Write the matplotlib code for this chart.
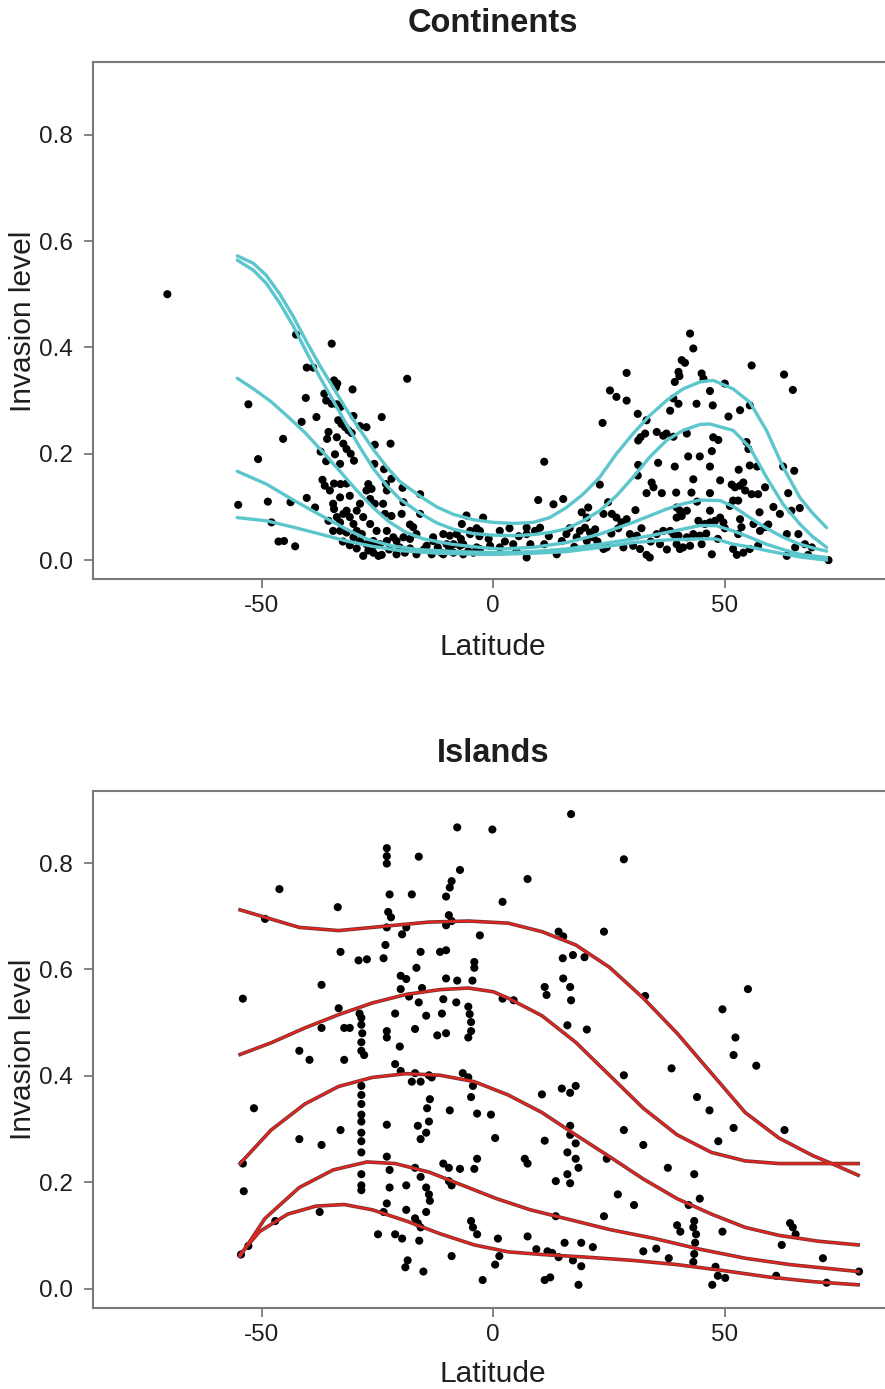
import matplotlib
matplotlib.use("Agg")
import matplotlib.pyplot as plt

plt.rcParams['font.family'] = ['Liberation Sans', 'DejaVu Sans']

# ---------------- Continents data ----------------
cont_lat = [
    -70.4, -42.6, -34.9, -40.3, -38.9, -18.6, -34.4, -33.7, -34.0, -52.9, -40.5, -30.4,
    -36.5, -36.1, -34.9, -33.8, -33.0, -30.2, -38.2, -41.4, -24.1, -33.5, -32.8, -32.0,
    -31.3, -30.6, -28.8, -27.4, -45.4, -35.6, -35.9, -33.8, -32.4, -31.7, -30.8, -30.1,
    -25.6, -22.2, -50.8, -37.3, -36.1, -33.1, -34.2, -25.7, -23.6, -36.9, -36.4, -34.4,
    -33.0, -31.7, -27.0, -26.3, -27.4, -22.0, -23.2, -23.0, -19.6, -15.8, -19.4, -55.1,
    -48.7, -43.8, -40.3, -38.5, -47.9, -46.4, -45.2, -42.8,
    -35.6, -34.4, -33.8, -33.1, -32.4, -31.7, -31.0, -30.2, -29.5, -28.4,
    -34.6, -33.1, -31.7, -30.2, -28.8, -27.4, -25.9, -24.5, -23.0, -20.9, -19.4, -18.0,
    -16.6, -17.3, -13.0, -10.8, -9.4, -7.9, -5.8, -5.0, -3.6,
    -28.1, -25.9, -24.8, -24.1, -20.9, -19.1, -16.6, -13.3, -11.2, -8.6, -6.5, -4.3,
    -28.8, -26.6, -25.6, -23.8, -23.4, -22.0, -19.8, -18.0, -13.0, -15.8,
    -34.6, -33.1, -31.0, -35.3, -29.5, -28.1, -26.6, -25.2, -23.0, -21.6, -25.9, -20.2,
    -14.4, -10.1, -6.5, -2.9,
    -32.5, -31.0, -29.5, -27.0, -22.5, -18.0, -15.0, -12.0, -9.5, -7.0, -3.0, -1.0,
    2.5, 3.5, 5.5, 8.0, 11.0, 12.0, 16.5, 17.5, 22.5, 25.5, 27.0, 32.0, 34.0, 36.0,
    37.5, 45.0, 46.0, 48.5, 50.0, 44.0, 49.0, 53.0, 57.5, 60.5,
    11.0, 42.5, 43.2, 40.7, 41.4, 55.8, 62.8, 64.7, 28.8, 40.0, 40.2, 45.0, 45.4,
    25.2, 26.6, 28.8, 39.2, 38.9, 40.0, 38.2, 46.8, 43.9, 47.4, 50.0, 53.3, 55.4,
    31.2, 33.1, 50.8, 23.6, 35.3, 36.7, 37.4, 38.9, 31.3, 31.8, 32.8, 41.8, 47.5, 48.6,
    42.1, 44.6, 47.2, 35.6, 39.2, 46.8, 31.3, 54.7, 55.1, 55.4, 57.0, 62.6, 65.0,
    31.2, 43.2, 34.2, 34.6, 51.5, 52.2, 53.3, 54.0, 54.4, 58.7, 23.0,
    33.1, 36.4, 39.5, 42.8, 46.8, 63.7, 51.8, 52.9, 55.8, 57.2,
    24.8, 15.1, 13.0, 9.7, 19.1, 20.5, 20.2, 23.8, 25.6, 26.6, 27.7, 28.8, 30.7,
    39.6, 40.3, 40.7, 39.6, 41.8, 44.3, 45.7, 46.8, 47.9, 49.0, 49.7, 46.8,
    61.9, 66.2, 64.4, 57.6, 58.7, 59.4, 56.2, 53.3, 53.6, 52.9, 51.1,
    63.4, 65.9, 65.2, 63.4, 67.3, 68.8, 68.0, 72.4,
    51.8, 52.6, 54.0, 55.4, 57.2, 47.2, 39.6, 41.0, 42.5, 40.3, 33.1, 31.7, 33.8,
    38.9, 40.0, 41.8, 43.2, 44.6, 35.3, 36.7, 38.2,
    28.1, 30.2, 23.8, 24.5, 31.0, 29.5,
    18.7, 19.8, 20.9, 22.0, 18.0, 20.2, 21.6, 13.7, 14.8, 15.8,
    10.1, 9.0, 7.2, 7.2, 4.3, 7.2, 5.0, 1.4, 1.4,
    -2.2, -0.7, -3.6, -2.9, -6.8, -5.0, -7.2, -5.4, -8.6, -10.8,
]
cont_inv = [
    0.500, 0.424, 0.407, 0.362, 0.362, 0.341, 0.338, 0.332, 0.325, 0.293, 0.305, 0.321,
    0.313, 0.300, 0.294, 0.293, 0.288, 0.271, 0.269, 0.260, 0.269, 0.263, 0.256, 0.250,
    0.244, 0.239, 0.252, 0.250, 0.228, 0.241, 0.228, 0.231, 0.219, 0.209, 0.200, 0.187,
    0.217, 0.219, 0.190, 0.204, 0.186, 0.181, 0.199, 0.181, 0.171, 0.151, 0.140, 0.144,
    0.143, 0.144, 0.143, 0.134, 0.131, 0.153, 0.143, 0.131, 0.136, 0.124, 0.109, 0.104,
    0.110, 0.109, 0.117, 0.099, 0.071, 0.035, 0.036, 0.026,
    0.074, 0.096, 0.081, 0.071, 0.087, 0.093, 0.081, 0.068, 0.055, 0.049,
    0.055, 0.055, 0.052, 0.043, 0.036, 0.030, 0.036, 0.030, 0.036, 0.036, 0.043, 0.040,
    0.049, 0.062, 0.036, 0.049, 0.046, 0.049, 0.084, 0.055, 0.060,
    0.008, 0.014, 0.008, 0.010, 0.011, 0.014, 0.011, 0.011, 0.014, 0.014, 0.011, 0.014,
    0.106, 0.115, 0.106, 0.106, 0.087, 0.083, 0.087, 0.067, 0.043, 0.087,
    0.106, 0.118, 0.121, 0.131, 0.093, 0.081, 0.068, 0.055, 0.055, 0.043, 0.027, 0.024,
    0.027, 0.030, 0.030, 0.021,
    0.035, 0.028, 0.022, 0.018, 0.020, 0.022, 0.020, 0.024, 0.022, 0.040, 0.045, 0.040,
    0.035, 0.060, 0.045, 0.030, 0.030, 0.045, 0.060, 0.025, 0.035, 0.050, 0.060, 0.060, 0.035, 0.030,
    0.020, 0.030, 0.050, 0.040, 0.060, 0.110, 0.150, 0.170, 0.090, 0.100,
    0.185, 0.426, 0.398, 0.376, 0.371, 0.366, 0.349, 0.320, 0.352, 0.354, 0.346, 0.351, 0.341,
    0.319, 0.307, 0.300, 0.335, 0.304, 0.294, 0.281, 0.318, 0.294, 0.291, 0.332, 0.282, 0.291,
    0.275, 0.263, 0.270, 0.258, 0.241, 0.234, 0.238, 0.232, 0.225, 0.231, 0.238, 0.238, 0.231, 0.226,
    0.195, 0.195, 0.205, 0.183, 0.176, 0.176, 0.179, 0.222, 0.209, 0.178, 0.176, 0.176, 0.168,
    0.159, 0.152, 0.146, 0.137, 0.142, 0.137, 0.140, 0.146, 0.131, 0.137, 0.142,
    0.126, 0.126, 0.127, 0.127, 0.126, 0.126, 0.112, 0.112, 0.124, 0.124,
    0.109, 0.115, 0.105, 0.113, 0.090, 0.099, 0.080, 0.087, 0.087, 0.080, 0.071, 0.077, 0.094,
    0.099, 0.093, 0.083, 0.080, 0.093, 0.074, 0.068, 0.071, 0.074, 0.080, 0.071, 0.093,
    0.087, 0.098, 0.093, 0.055, 0.062, 0.067, 0.068, 0.077, 0.062, 0.049, 0.102,
    0.049, 0.049, 0.024, 0.008, 0.030, 0.024, 0.010, 0.000,
    0.021, 0.010, 0.014, 0.021, 0.027, 0.011, 0.030, 0.024, 0.027, 0.021, 0.010, 0.021, 0.005,
    0.049, 0.046, 0.043, 0.049, 0.046, 0.049, 0.055, 0.055,
    0.024, 0.027, 0.021, 0.024, 0.046, 0.049,
    0.055, 0.061, 0.052, 0.058, 0.043, 0.036, 0.043, 0.011, 0.036, 0.049,
    0.061, 0.055, 0.061, 0.049, 0.030, 0.005, 0.017, 0.055, 0.024,
    0.080, 0.027, 0.024, 0.055, 0.068, 0.049, 0.027, 0.017, 0.030, 0.011,
]

# quantile curves (continents)
cq_a_x = [-55.3, -51.8, -49.0, -46.1, -43.2, -40.3, -37.4, -34.6, -31.7, -28.8, -25.9, -23.0, -20.2,
          -15.8, -12.2, -8.6, -4.3, 0.0, 4.3, 8.6, 12.2, 15.8, 19.4, 23.0, 26.6, 30.2, 33.8, 37.4,
          41.0, 44.6, 47.5, 51.8, 55.4, 59.0, 62.6, 66.2, 69.0, 72.0]
cq_a_y = [0.572, 0.558, 0.535, 0.500, 0.458, 0.410, 0.365, 0.325, 0.283, 0.245, 0.208, 0.175, 0.148,
          0.120, 0.100, 0.086, 0.076, 0.071, 0.069, 0.071, 0.080, 0.099, 0.124, 0.156, 0.200, 0.238,
          0.272, 0.300, 0.322, 0.335, 0.338, 0.322, 0.297, 0.244, 0.175, 0.118, 0.088, 0.061]
cq_b_x = [-55.3, -51.8, -49.0, -46.1, -43.2, -40.3, -37.4, -34.6, -31.7, -28.8, -25.9, -23.0, -20.2,
          -15.8, -12.2, -8.6, -4.3, 0.0, 4.3, 8.6, 12.2, 15.8, 19.4, 23.0, 26.6, 30.2, 33.8, 37.4,
          41.0, 44.6, 46.8, 51.8, 55.4, 59.0, 62.6, 66.2, 69.0, 72.0]
cq_b_y = [0.564, 0.545, 0.520, 0.483, 0.440, 0.390, 0.343, 0.300, 0.255, 0.212, 0.172, 0.140, 0.115,
          0.088, 0.070, 0.058, 0.050, 0.047, 0.046, 0.048, 0.052, 0.059, 0.074, 0.093, 0.121, 0.156,
          0.194, 0.225, 0.244, 0.255, 0.256, 0.244, 0.212, 0.156, 0.105, 0.068, 0.044, 0.024]
cq_c_x = [-55.3, -51.8, -48.0, -44.4, -40.7, -37.0, -33.4, -29.7, -26.1, -22.5, -18.8, -15.1, -9.0,
          -3.0, 1.4, 8.6, 15.8, 23.0, 30.2, 37.4, 41.0, 44.6, 49.0, 52.0, 55.4, 59.0, 62.6, 66.2,
          69.0, 72.0]
cq_c_y = [0.342, 0.322, 0.298, 0.270, 0.240, 0.205, 0.170, 0.133, 0.100, 0.072, 0.052, 0.040, 0.030,
          0.024, 0.021, 0.024, 0.033, 0.049, 0.071, 0.096, 0.106, 0.113, 0.112, 0.100, 0.080, 0.060,
          0.043, 0.030, 0.023, 0.017]
cq_d_x = [-55.3, -49.0, -43.2, -37.4, -31.7, -27.4, -22.0, -16.3, -8.0, 1.4, 8.6, 15.8, 23.0, 30.2,
          37.4, 44.6, 48.0, 51.8, 55.4, 59.0, 62.6, 66.2, 72.0]
cq_d_y = [0.167, 0.143, 0.113, 0.085, 0.058, 0.040, 0.027, 0.020, 0.016, 0.014, 0.016, 0.021, 0.030,
          0.040, 0.052, 0.065, 0.065, 0.055, 0.043, 0.030, 0.020, 0.011, 0.005]
cq_e_x = [-55.3, -49.0, -43.2, -37.4, -31.7, -26.1, -20.2, -12.0, -3.0, 1.4, 8.6, 15.8, 23.0, 30.2,
          37.4, 44.6, 48.0, 51.8, 55.4, 59.0, 62.6, 66.2, 72.0]
cq_e_y = [0.080, 0.074, 0.062, 0.049, 0.036, 0.026, 0.018, 0.013, 0.011, 0.011, 0.013, 0.016, 0.024,
          0.033, 0.038, 0.040, 0.040, 0.030, 0.025, 0.018, 0.012, 0.006, 0.000]

# ---------------- Islands data ----------------
isl_lat = [
    16.8, -7.8, -0.2, -23.0, -23.0, -23.0, -16.1, 28.2, -7.2, 7.4, -9.0, -9.4, -10.2, -46.2,
    -22.4, -17.6, 2.0, -33.6, -22.7, -22.1, -49.3, -9.6, -9.0, -10.2, -23.0, -18.8, 23.9, 14.1,
    15.1, -2.9, -19.7, -23.3, -23.7, -27.3, -29.1, -15.7, -11.5, -10.2, -33.0, 15.0, 17.2, 19.7,
    -20.0, -18.8, -16.6, -4.1, -4.1, -10.2, -7.8, -15.4, -4.5, -37.1, 15.1, 16.6, 16.8, 11.1,
    11.5, 2.0, 4.4, 32.8, 55.0, -54.1, -20.0, -18.2, -16.1, -10.8, -11.1, -8.0, -33.4, -5.4,
    -5.1, -4.8, -4.8, -5.4, 49.5, -28.9, -28.5, -28.5, -28.3, -28.5, -28.5, -27.9, -21.2, -14.5,
    -32.2, -31.0, -37.1, 16.0, 20.2, -23.0, -23.0, -16.9, -12.1, -10.2, -20.2, 52.3, -32.2, 56.8,
    -41.9, -39.7, 51.9, 38.5, -21.2, -20.0, -16.9, -13.9, -17.6, -15.7, -13.3, -6.6, -5.4, -4.4,
    -4.8, 14.8, 17.8, 16.6, 28.2, -28.5, -28.5, -28.5, -28.5, -28.5, -28.5, -28.5, -28.5, 10.5,
    -13.7, -14.3, -13.9, -14.5, 44.0, -51.7, -3.5, -9.4, -0.5, 46.7, -16.3, -15.7, -23.0, -33.0,
    28.2, 62.9, 51.9, 16.6, 16.6, 17.8, 0.4, -41.9, 48.6, -37.1, 32.4, 11.1, 16.0, 17.8, 18.4,
    16.0, 16.6, 6.8, 7.4, 24.5, -10.8, -9.6, -7.2, -4.1, -3.5, 37.7, -28.5, -28.5, -28.5, -23.0,
    -22.4, -16.9, -15.7, -14.5, -13.9, -13.7, -14.5, -22.4, -18.8, -9.6, -9.0, 13.5, 43.4, 26.9,
    30.4, 42.2, 44.6, 43.4, 43.2, 43.8, 43.6, 43.4, 43.2, 39.7, 40.4, -23.0, -23.7, -18.8, -16.9,
    -16.3, -15.7, -16.0, -21.2, -19.7, -24.9, -47.1, -37.5, -53.9, -54.1, -54.5, -52.9, 23.9,
    13.5, 64.1, 64.7, 65.3, 62.3, 1.0, 1.3, 0.4, -2.3, -9.0, -15.1, -18.5, -19.0, -4.8, -4.4,
    -3.5, 7.4, 9.3, 11.7, 12.7, 14.1, 15.4, 19.0, 21.5, 17.2, 19.0, 18.4, 11.1, 12.3, 32.4, 35.2,
    37.9, 49.5, 48.0, 48.5, 47.3, 50.1, 61.1, 71.2, 72.0, 79.0,
]
isl_inv = [
    0.892, 0.867, 0.863, 0.828, 0.813, 0.799, 0.812, 0.807, 0.787, 0.770, 0.766, 0.754, 0.737, 0.751,
    0.741, 0.741, 0.727, 0.717, 0.708, 0.698, 0.695, 0.702, 0.691, 0.683, 0.679, 0.679, 0.671, 0.671,
    0.662, 0.664, 0.666, 0.646, 0.621, 0.619, 0.617, 0.633, 0.633, 0.636, 0.633, 0.621, 0.627, 0.623,
    0.588, 0.582, 0.603, 0.614, 0.603, 0.583, 0.579, 0.565, 0.579, 0.571, 0.583, 0.567, 0.542, 0.567,
    0.552, 0.545, 0.542, 0.550, 0.563, 0.545, 0.563, 0.549, 0.538, 0.544, 0.517, 0.538, 0.527, 0.530,
    0.516, 0.501, 0.484, 0.472, 0.525, 0.517, 0.509, 0.496, 0.480, 0.463, 0.447, 0.439, 0.517, 0.513,
    0.490, 0.490, 0.490, 0.495, 0.487, 0.484, 0.472, 0.488, 0.476, 0.480, 0.455, 0.472, 0.430, 0.419,
    0.447, 0.430, 0.439, 0.414, 0.422, 0.409, 0.405, 0.401, 0.389, 0.389, 0.397, 0.405, 0.397, 0.381,
    0.360, 0.376, 0.381, 0.368, 0.401, 0.381, 0.364, 0.347, 0.327, 0.314, 0.293, 0.277, 0.256, 0.365,
    0.356, 0.339, 0.314, 0.293, 0.360, 0.339, 0.329, 0.335, 0.327, 0.335, 0.306, 0.281, 0.308, 0.298,
    0.298, 0.298, 0.302, 0.306, 0.289, 0.273, 0.283, 0.281, 0.277, 0.270, 0.270, 0.278, 0.256, 0.244, 0.227,
    0.215, 0.198, 0.244, 0.235, 0.244, 0.235, 0.227, 0.225, 0.225, 0.244, 0.227, 0.215, 0.194, 0.185, 0.248,
    0.223, 0.227, 0.210, 0.190, 0.177, 0.165, 0.144, 0.190, 0.194, 0.202, 0.194, 0.202, 0.215, 0.177,
    0.157, 0.157, 0.169, 0.127, 0.115, 0.102, 0.086, 0.065, 0.050, 0.119, 0.107, 0.160, 0.144, 0.148, 0.132,
    0.123, 0.115, 0.090, 0.102, 0.094, 0.102, 0.127, 0.144, 0.183, 0.235, 0.064, 0.080, 0.136,
    0.136, 0.123, 0.115, 0.102, 0.082, 0.094, 0.061, 0.045, 0.016, 0.061, 0.032, 0.053, 0.040, 0.127, 0.115,
    0.102, 0.098, 0.074, 0.070, 0.067, 0.059, 0.086, 0.086, 0.078, 0.053, 0.042, 0.007, 0.016, 0.021, 0.070, 0.075,
    0.057, 0.107, 0.041, 0.024, 0.007, 0.020, 0.024, 0.057, 0.011, 0.032,
]

iq_1_x = [-54.7, -49.3, -41.9, -33.4, -23.7, -13.9, -5.4, 3.2, 10.5, 17.8, 25.1, 32.4, 39.7, 47.1,
          54.4, 61.7, 69.0, 73.9, 78.8]
iq_1_y = [0.712, 0.698, 0.679, 0.673, 0.681, 0.689, 0.691, 0.687, 0.671, 0.646, 0.604, 0.546, 0.480,
          0.405, 0.331, 0.283, 0.250, 0.232, 0.213]
iq_2_x = [-54.7, -48.0, -40.7, -33.4, -26.1, -18.8, -11.5, -5.4, 0.0, 3.2, 10.5, 17.8, 25.1, 32.4,
          39.7, 47.1, 54.4, 61.7, 70.0, 78.8]
iq_2_y = [0.440, 0.462, 0.490, 0.515, 0.537, 0.553, 0.562, 0.565, 0.558, 0.546, 0.513, 0.463, 0.401,
          0.339, 0.289, 0.256, 0.240, 0.235, 0.235, 0.235]
iq_3_x = [-54.7, -48.0, -40.7, -33.4, -26.1, -18.8, -11.5, -4.1, 3.2, 10.5, 17.8, 25.1, 32.4, 39.7,
          47.1, 54.4, 61.7, 70.2, 78.8]
iq_3_y = [0.235, 0.298, 0.347, 0.380, 0.397, 0.404, 0.401, 0.389, 0.364, 0.331, 0.289, 0.248, 0.206,
          0.169, 0.140, 0.115, 0.100, 0.089, 0.082]
iq_4_x = [-54.7, -49.3, -41.9, -34.6, -27.3, -21.2, -13.9, -6.6, 0.7, 8.0, 15.4, 25.1, 34.9, 44.6,
          54.4, 64.1, 78.8]
iq_4_y = [0.061, 0.132, 0.190, 0.223, 0.238, 0.235, 0.219, 0.194, 0.169, 0.148, 0.132, 0.111, 0.094,
          0.074, 0.057, 0.045, 0.032]
iq_5_x = [-54.7, -50.5, -44.4, -38.3, -32.2, -26.1, -18.8, -11.5, -4.1, 3.2, 10.5, 20.2, 30.0, 39.7,
          49.5, 59.2, 69.0, 78.8]
iq_5_y = [0.064, 0.107, 0.140, 0.155, 0.158, 0.148, 0.127, 0.103, 0.082, 0.069, 0.064, 0.059, 0.053,
          0.045, 0.034, 0.022, 0.013, 0.007]

x_ticks = [-50, 0, 50]
y_ticks = [0.0, 0.2, 0.4, 0.6, 0.8]
y_tick_labels = ["0.0", "0.2", "0.4", "0.6", "0.8"]

W, H = 885, 1389
fig = plt.figure(figsize=(W / 100, H / 100), dpi=100)

TXT = '#1e1e1e'
SPINE = '#7a7a7a'


def setup(ax):
    ax.set_xlim(-86.4, 86.4)
    ax.set_ylim(-0.036, 0.936)
    ax.set_xticks(x_ticks)
    ax.set_xticklabels([str(v) for v in x_ticks])
    ax.set_yticks(y_ticks)
    ax.set_yticklabels(y_tick_labels)
    for s in ax.spines.values():
        s.set_color(SPINE)
        s.set_linewidth(1.5)
    ax.tick_params(axis='both', direction='out', length=6.5, width=1.3, color=SPINE,
                   labelsize=17.5, labelcolor=TXT)
    ax.tick_params(axis='y', pad=8)
    ax.tick_params(axis='x', pad=5)


# top panel
ax1 = fig.add_axes([93.3 / W, 1 - 579.3 / H, 800 / W, 517 / H])
setup(ax1)
cyan = '#5cc6cd'
for cx, cy in [(cq_a_x, cq_a_y), (cq_b_x, cq_b_y), (cq_c_x, cq_c_y), (cq_d_x, cq_d_y), (cq_e_x, cq_e_y)]:
    ax1.plot(cx, cy, color=cyan, lw=2.4, solid_capstyle='round', solid_joinstyle='round', zorder=3)
ax1.scatter(cont_lat, cont_inv, s=34, color='black', edgecolors='none', zorder=2)

# bottom panel
ax2 = fig.add_axes([93.3 / W, 1 - 1307.7 / H, 800 / W, 517 / H])
setup(ax2)
ax2.scatter(isl_lat, isl_inv, s=34, color='black', edgecolors='none', zorder=2)
for cx, cy in [(iq_1_x, iq_1_y), (iq_2_x, iq_2_y), (iq_3_x, iq_3_y), (iq_4_x, iq_4_y), (iq_5_x, iq_5_y)]:
    ax2.plot(cx, cy, color='#6e3434', lw=2.6, solid_joinstyle='round', zorder=3)
    ax2.plot(cx, cy, color='#e3241f', lw=1.5, solid_joinstyle='round', zorder=4)

# texts
cx_fig = 493.3 / W
fig.text(cx_fig, 1 - 24 / H, 'Continents', ha='center', va='center', fontsize=23.5,
         fontweight='bold', color=TXT)
fig.text(cx_fig, 1 - 753 / H, 'Islands', ha='center', va='center', fontsize=23.5,
         fontweight='bold', color=TXT)
fig.text(cx_fig, 1 - 647 / H, 'Latitude', ha='center', va='center', fontsize=21.5, color=TXT)
fig.text(cx_fig, 1 - 1374 / H, 'Latitude', ha='center', va='center', fontsize=21.5, color=TXT)
fig.text(23 / W, 1 - 321 / H, 'Invasion level', ha='center', va='center', rotation=90,
         fontsize=21.5, color=TXT)
fig.text(23 / W, 1 - 1049 / H, 'Invasion level', ha='center', va='center', rotation=90,
         fontsize=21.5, color=TXT)

fig.savefig('out.png', dpi=100)
